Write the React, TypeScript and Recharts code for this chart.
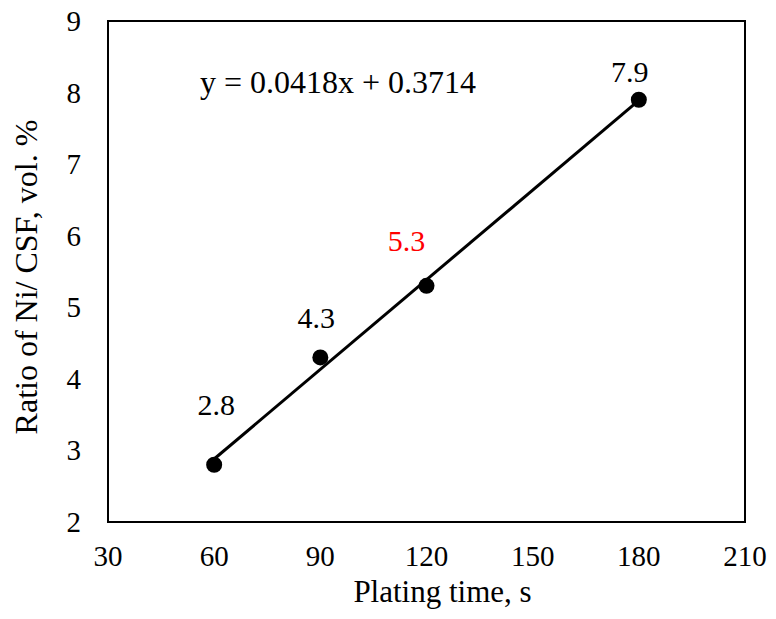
import React from 'react'
import {
  ComposedChart,
  Line,
  Scatter,
  XAxis,
  YAxis,
  ReferenceArea,
  ReferenceDot,
} from 'recharts'

const platingTimes = [60, 90, 120, 180]
const niRatios = [2.8, 4.3, 5.3, 7.9]
const pointLabels = ['2.8', '4.3', '5.3', '7.9']
const labelColors = ['#000000', '#000000', '#FF0000', '#000000']

// trendline end points
const trendTimes = [60, 180]
const trendValues = [2.88, 7.89]

const xTicks = [30, 60, 90, 120, 150, 180, 210]
const yTicks = [2, 3, 4, 5, 6, 7, 8, 9]

const equationText = 'y = 0.0418x + 0.3714'

const FONT = "'Liberation Serif', 'Times New Roman', serif"
const serif = { fontFamily: FONT }

// label offsets from the dot centre (dx, dy to text centre)
const labelOffsets = [
  [2, -60],
  [-4, -39],
  [-20, -45],
  [-9, -28],
]

const points = platingTimes.map((x, i) => ({ x, y: niRatios[i] }))
const trend = trendTimes.map((x, i) => ({ x, y: trendValues[i] }))

const DotWithLabel = (props: any) => {
  const { cx, cy, index } = props
  const [dx, dy] = labelOffsets[index] || [0, -30]
  return (
    <g>
      <circle cx={cx} cy={cy} r={8} fill="#000" />
      <text
        x={cx + dx}
        y={cy + dy + 10}
        textAnchor="middle"
        style={{ ...serif, fontSize: 30 }}
        fill={labelColors[index]}
      >
        {pointLabels[index]}
      </text>
    </g>
  )
}

const XTick = (props: any) => {
  const { x, y, payload } = props
  return (
    <text x={x} y={y + 44} textAnchor="middle" style={{ ...serif, fontSize: 29 }} fill="#000">
      {payload.value}
    </text>
  )
}

const YTick = (props: any) => {
  const { x, y, payload } = props
  return (
    <text x={x} y={y + 10} textAnchor="end" style={{ ...serif, fontSize: 29 }} fill="#000">
      {payload.value}
    </text>
  )
}

const XTitle = (props: any) => {
  const vb = props.viewBox
  return (
    <text
      x={vb.x + vb.width / 2 + 16}
      y={vb.y + 80}
      textAnchor="middle"
      style={{ ...serif, fontSize: 31 }}
      fill="#000"
    >
      Plating time, s
    </text>
  )
}

const YTitle = () => (
  <text
    x={37}
    y={277}
    transform="rotate(-90, 37, 277)"
    textAnchor="middle"
    style={{ ...serif, fontSize: 32 }}
    fill="#000"
  >
    Ratio of Ni/ CSF, vol. %
  </text>
)

const Equation = (props: any) => (
  <text x={props.cx} y={props.cy} textAnchor="start" style={{ ...serif, fontSize: 32 }} fill="#000">
    {equationText}
  </text>
)

export default function App() {
  return (
    <div
      style={{
        position: 'absolute',
        left: 0,
        top: 0,
        width: 776,
        height: 619,
        background: '#fff',
        fontFamily: FONT,
      }}
    >
      <ComposedChart
        width={776}
        height={619}
        margin={{ top: 21, right: 31, bottom: 0, left: 0 }}
        style={serif}
      >
        <XAxis
          type="number"
          dataKey="x"
          domain={[30, 210]}
          ticks={xTicks}
          allowDataOverflow
          axisLine={false}
          tickLine={false}
          tickSize={0}
          tickMargin={0}
          height={97}
          tick={<XTick />}
          label={<XTitle />}
        />
        <YAxis
          type="number"
          dataKey="y"
          domain={[2, 9]}
          ticks={yTicks}
          allowDataOverflow
          axisLine={false}
          tickLine={false}
          tickSize={0}
          tickMargin={27}
          width={108}
          tick={<YTick />}
          label={<YTitle />}
        />
        <ReferenceArea
          x1={30}
          x2={210}
          y1={2}
          y2={9}
          fill="none"
          stroke="#000"
          strokeWidth={2}
          ifOverflow="visible"
        />
        <Line
          data={trend}
          dataKey="y"
          type="linear"
          stroke="#000"
          strokeWidth={3}
          dot={false}
          activeDot={false}
          isAnimationActive={false}
        />
        <Scatter data={points} dataKey="y" shape={<DotWithLabel />} isAnimationActive={false} />
        <ReferenceDot x={56} y={8} r={0} shape={<Equation />} ifOverflow="visible" />
      </ComposedChart>
    </div>
  )
}
